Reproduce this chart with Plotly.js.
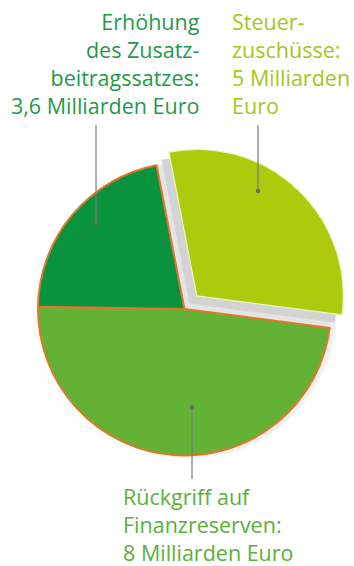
<!DOCTYPE html>
<html>
<head>
<meta charset="utf-8">
<script src="https://cdn.plot.ly/plotly-3.0.1.min.js"></script>
<style>
html,body{margin:0;padding:0;background:#fff;}
#chart{width:354px;height:566px;}
</style>
</head>
<body>
<div id="chart"></div>
<script>
// Data
const labels = ["Steuerzuschüsse", "Rückgriff auf Finanzreserven", "Erhöhung des Zusatzbeitragssatzes"];
const values = [5, 8, 3.6];
const labelTexts = [
  "Steuer-<br>zuschüsse:<br>5 Milliarden<br>Euro",
  "Rückgriff auf<br>Finanzreserven:<br>8 Milliarden Euro",
  "Erhöhung<br>des Zusatz-<br>beitragssatzes:<br>3,6 Milliarden Euro"
];
const sliceColors = ["#adca0c", "#63b236", "#0a923e"];
const textColors = ["#a6c51c", "#5caf3c", "#1e9a4c"];

const W = 354, H = 566;
const cx = 184.5, cy = 309, R = 146.5;
const pullMain = 0.123;

function dom(pull, dx, dy) {
  const half = R * (1 + pull);
  const x0 = cx + (dx || 0), y0 = cy + (dy || 0);
  return {
    x: [(x0 - half) / W, (x0 + half) / W],
    y: [(H - y0 - half - 40) / H, (H - y0 + half + 40) / H]
  };
}

function shadowTrace(pull, colors, dx, dy) {
  return {
    type: "pie", values: values, labels: labels, sort: false,
    direction: "clockwise", rotation: -11,
    pull: [pull, 0, 0], textinfo: "none", hoverinfo: "skip", showlegend: false,
    marker: {colors: colors, line: {width: 0}},
    domain: dom(pull, dx, dy)
  };
}

const clear = "rgba(0,0,0,0)";
const shadows = [
  shadowTrace(0, ["#eeeeee", "#f1f1f1", clear], 5, 3),
  shadowTrace(0, ["#e4e4e4", clear, clear], 0, 0),
  shadowTrace(0.07, ["#d3d3d3", clear, clear], -2, 2)
];

const main = {
  type: "pie",
  values: values,
  labels: labels,
  sort: false,
  direction: "clockwise",
  rotation: -11,
  pull: [pullMain, 0, 0],
  textinfo: "none",
  hoverinfo: "label+value",
  showlegend: false,
  marker: {
    colors: sliceColors,
    line: {color: ["#eef5c0", "#e2772a", "#e2772a"], width: [1.2, 2, 2]}
  },
  domain: dom(pullMain)
};

const font = "Open Sans, sans-serif";
const fs = 21.5;
const annotations = [
  {text: labelTexts[2], x: 201 / W, y: 1 - 6 / H, xanchor: "right", yanchor: "top", align: "right",
   font: {family: font, size: fs, color: textColors[2]}},
  {text: labelTexts[0], x: 231 / W, y: 1 - 6 / H, xanchor: "left", yanchor: "top", align: "left",
   font: {family: font, size: fs, color: textColors[0]}},
  {text: labelTexts[1], x: 122 / W, y: 1 - 481 / H, xanchor: "left", yanchor: "top", align: "left",
   font: {family: font, size: fs, color: textColors[1]}}
].map(a => Object.assign({xref: "paper", yref: "paper", showarrow: false, borderpad: 0}, a));

const lineColor = "#7a7a7a";
function vline(x, y0, y1) {
  return {type: "line", xref: "paper", yref: "paper", x0: x / W, x1: x / W, y0: 1 - y0 / H, y1: 1 - y1 / H,
          line: {color: lineColor, width: 1.2}, layer: "above"};
}
function dot(x, y) {
  const r = 2.2;
  return {type: "circle", xref: "paper", yref: "paper", x0: (x - r) / W, x1: (x + r) / W, y0: 1 - (y - r) / H, y1: 1 - (y + r) / H,
          fillcolor: "#6a6a6a", line: {width: 0}, layer: "above"};
}
const shapes = [
  vline(96, 125, 223), dot(96, 223),
  vline(258, 125, 191), dot(258, 191),
  vline(192, 407, 479), dot(192, 407)
];

Plotly.newPlot("chart", shadows.concat([main]), {
  width: W, height: H,
  margin: {l: 0, r: 0, t: 0, b: 0},
  paper_bgcolor: "#fff",
  plot_bgcolor: "#fff",
  annotations: annotations,
  shapes: shapes,
  showlegend: false
}, {displayModeBar: false, staticPlot: true});
</script>
</body>
</html>
